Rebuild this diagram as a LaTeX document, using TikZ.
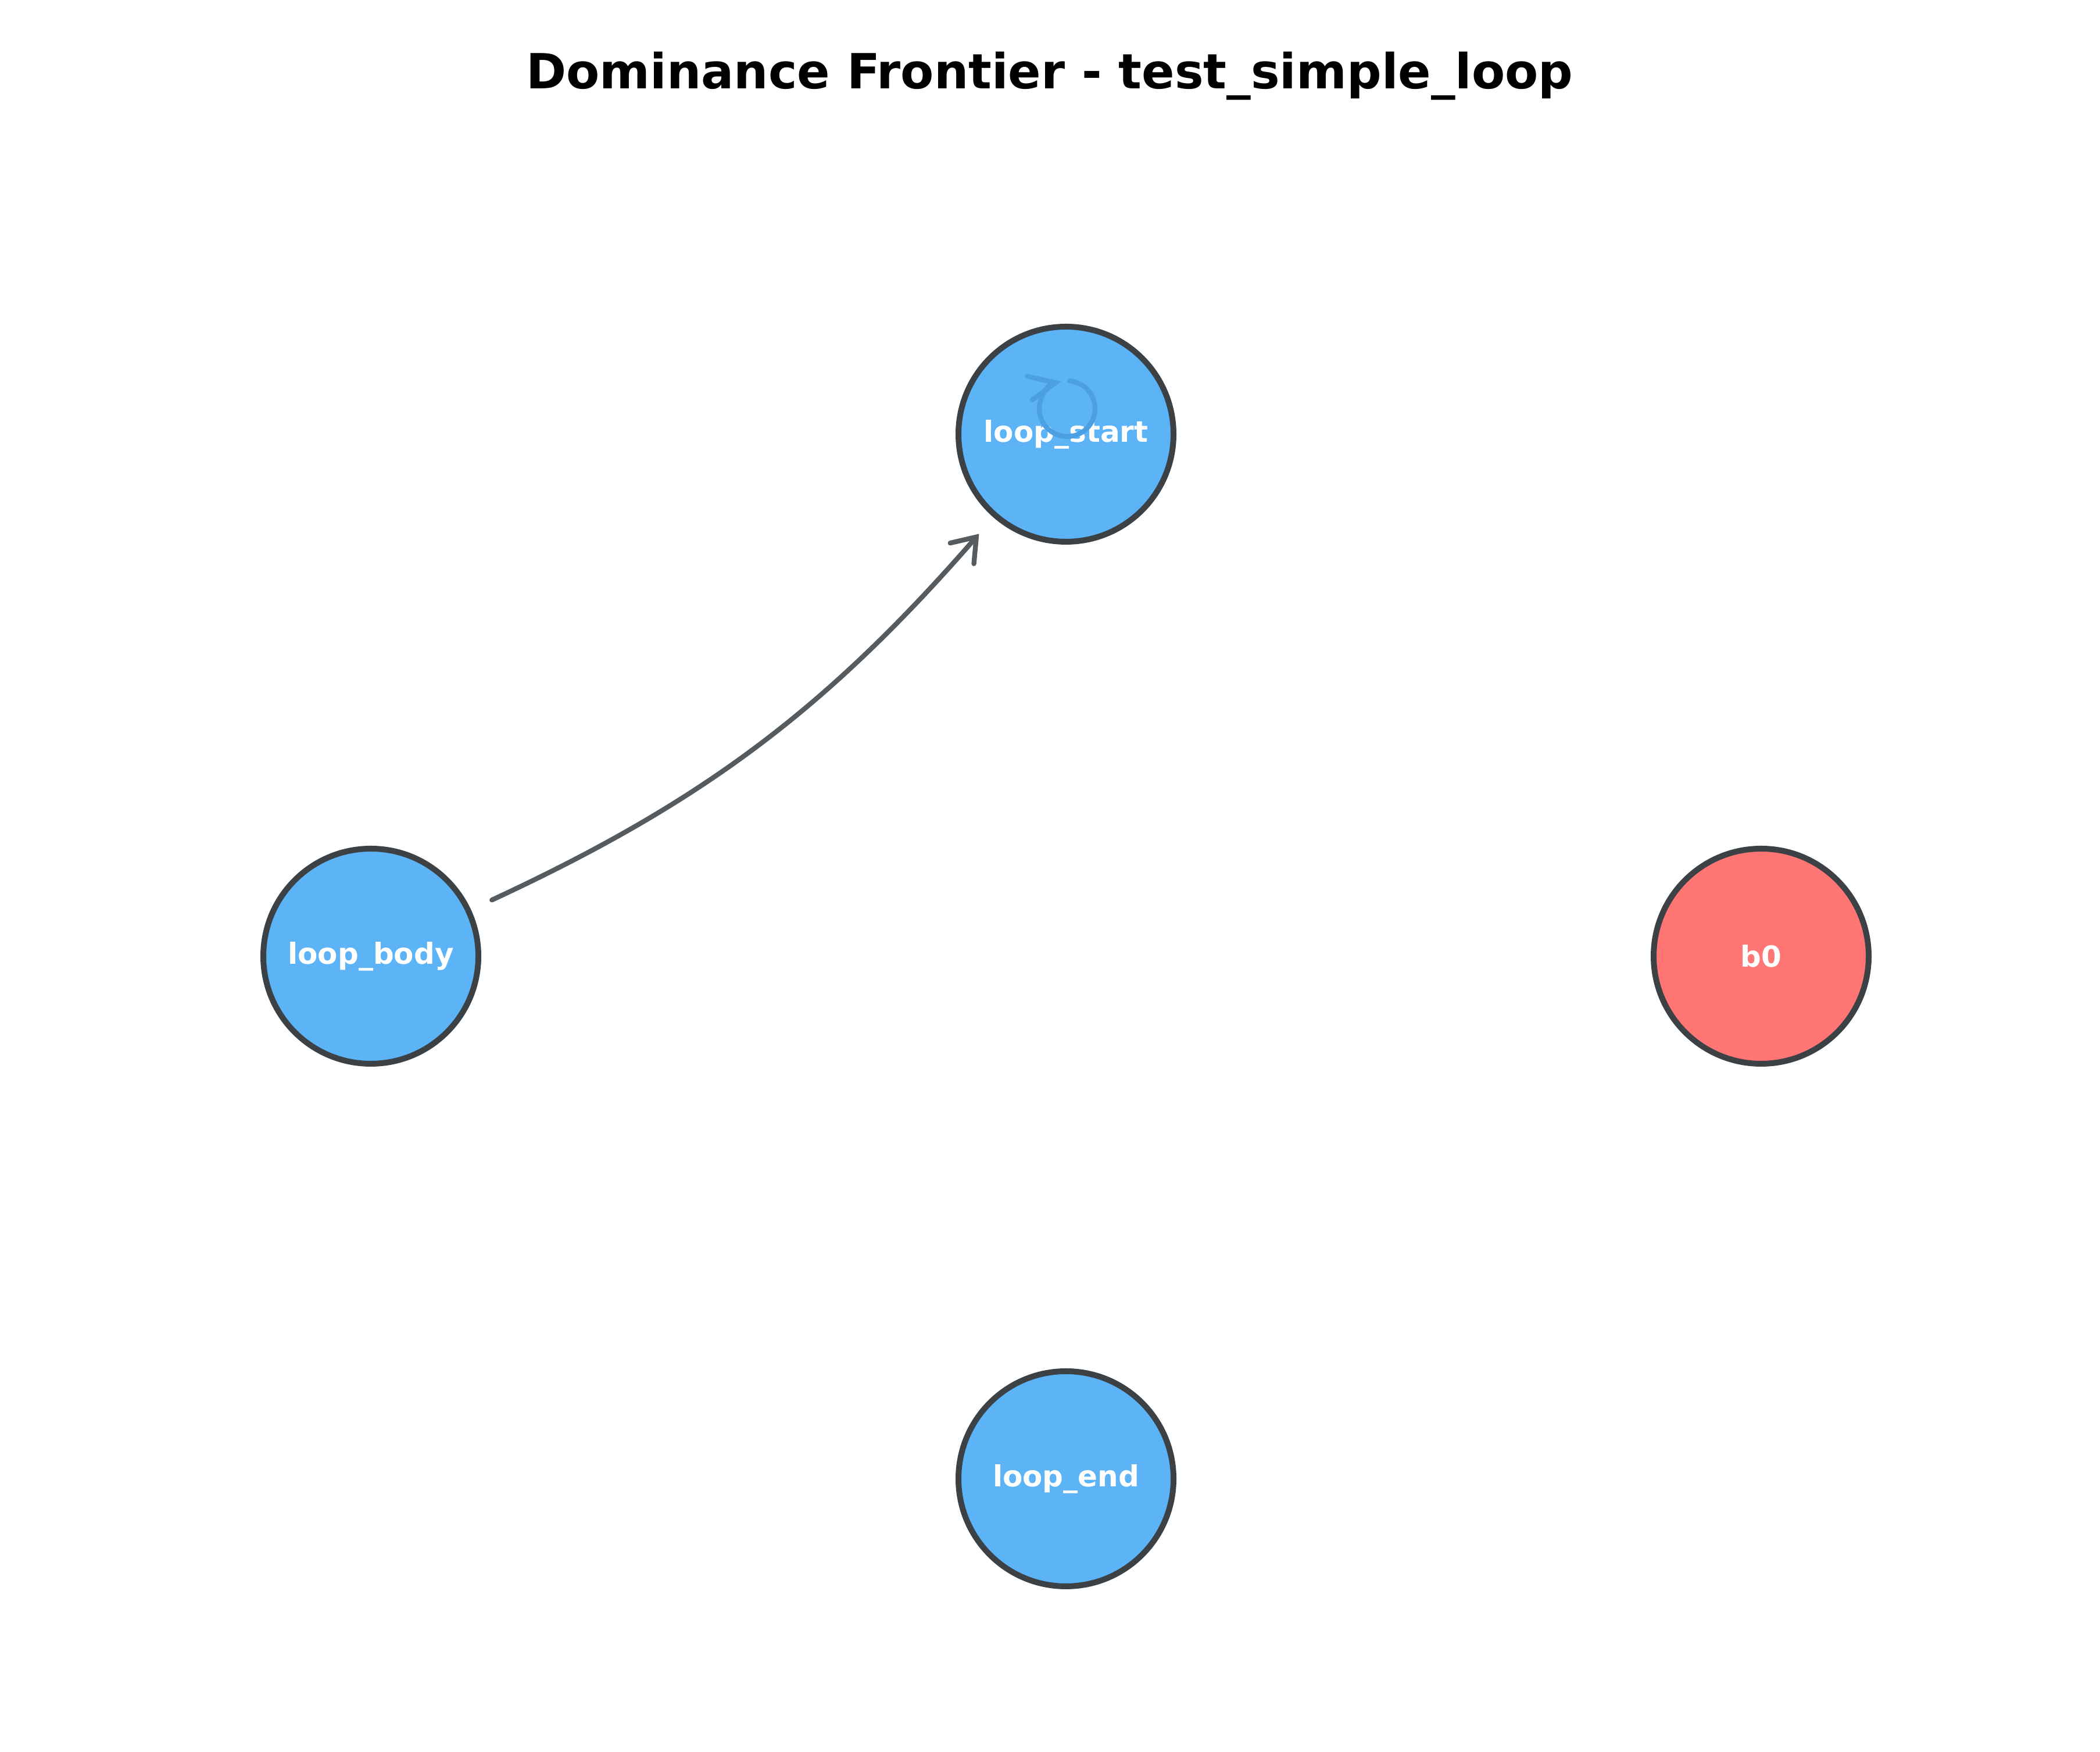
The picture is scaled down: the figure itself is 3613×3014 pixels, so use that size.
\documentclass[tikz,border=0pt]{standalone}
\usepackage{fontspec}
\setmainfont{DejaVu Sans}
\usetikzlibrary{arrows.meta}
\definecolor{blockblue}{HTML}{5CB3F6}
\definecolor{blockred}{HTML}{FF7675}
\definecolor{rimgray}{HTML}{3B4145}
\definecolor{edgegray}{HTML}{555B5E}
\definecolor{loopblue}{HTML}{4AA0E2}
\tikzset{
  block/.style={circle, minimum size=88.8pt, inner sep=0pt, fill=blockblue, draw=rimgray, line width=2.4pt, text=white, font=\bfseries\fontsize{12}{14}\selectfont},
  entryblock/.style={block, fill=blockred},
  frontier/.style={draw=edgegray, line width=2pt, line cap=round, -{Straight Barb[length=9pt, width=13pt, line cap=round]}},
  selfloop/.style={draw=loopblue, line width=2pt, line cap=round, -{Straight Barb[length=11pt, width=10pt, line cap=round]}},
  charttitle/.style={anchor=base, font=\bfseries\fontsize{20}{24}\selectfont},
}

\begin{document}
\begin{tikzpicture}[x=0.24pt, y=0.24pt]
\useasboundingbox (0,0) rectangle (3613,3014);
\node[charttitle] (title) at (1806,2861) {Dominance Frontier - test\_simple\_loop};
\node[block] (lstart) at (1834,2267) {loop\_start};
\node[block] (lbody) at (638,1369) {loop\_body};
\node[entryblock] (b0) at (3030,1369) {b0};
\node[block] (lend) at (1834,470) {loop\_end};
\draw[frontier, shorten <=9.5pt, shorten >=9pt] (lbody) to[bend right=12] (lstart);
\draw[selfloop] ([shift={(1.5pt,22pt)}]lstart.center) arc[start angle=85, end angle=-258, radius=11.5pt];
\end{tikzpicture}
\end{document}
